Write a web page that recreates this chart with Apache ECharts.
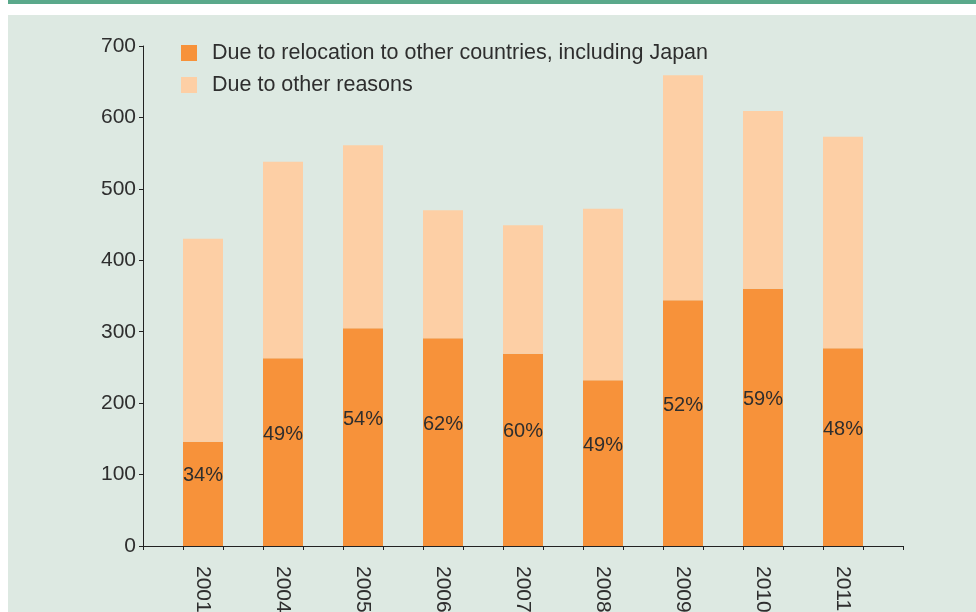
<!DOCTYPE html>
<html>
<head>
<meta charset="utf-8">
<script src="https://cdn.jsdelivr.net/npm/echarts@6/dist/echarts.min.js"></script>
<style>
  html, body { margin: 0; padding: 0; background: #fff; }
  #b { width: 976px; height: 612px; }
</style>
</head>
<body>
<div id="b"></div>
<script>
var years = ['2001', '2004', '2005', '2006', '2007', '2008', '2009', '2010', '2011'];
var relocation = [146, 263, 305, 291, 269, 232, 344, 360, 277];
var other = [284, 275, 256, 179, 180, 240, 315, 249, 296];
var shares = ['34%', '49%', '54%', '62%', '60%', '49%', '52%', '59%', '48%'];
var yTicks = [0, 700, 100]; // min, max, step

var font = 'Liberation Sans, Arial, sans-serif';
var ink = '#2e2e2e';

var myChart = echarts.init(document.getElementById('b'));
option = {
  backgroundColor: '#ffffff',
  animation: false,
  graphic: [
    { type: 'rect', z: -10, shape: { x: 8, y: 0, width: 968, height: 4 }, style: { fill: '#5aa98b' } },
    { type: 'rect', z: -10, shape: { x: 8, y: 15, width: 968, height: 597 }, style: { fill: '#dde9e2' } }
  ],
  legend: {
    orient: 'vertical',
    left: 176,
    top: 37,
    itemWidth: 16,
    itemHeight: 16,
    itemGap: 10,
    icon: 'rect',
    textStyle: { fontSize: 21.5, color: ink, fontFamily: font, padding: [0, 0, 0, 10] },
    data: ['Due to relocation to other countries, including Japan', 'Due to other reasons']
  },
  // grid 0 holds the bars, grid 1 draws the axes and ticks
  grid: [
    { left: 163, width: 720, top: 46, height: 500, outerBoundsMode: 'none', containLabel: false },
    { left: 143, width: 760, top: 46, height: 500, outerBoundsMode: 'none', containLabel: false }
  ],
  xAxis: [
    {
      type: 'category',
      gridIndex: 0,
      data: years,
      axisLine: { show: false },
      axisTick: { show: false },
      axisLabel: { rotate: -90, margin: 20, fontSize: 21, color: ink, fontFamily: font }
    },
    {
      type: 'value',
      gridIndex: 1,
      min: 0,
      max: 19,
      interval: 1,
      axisLine: { show: true, lineStyle: { color: '#222', width: 1 } },
      axisTick: { show: true, length: 4, lineStyle: { color: '#222' } },
      axisLabel: { show: false },
      splitLine: { show: false }
    }
  ],
  yAxis: [
    { type: 'value', gridIndex: 0, min: yTicks[0], max: yTicks[1], show: false },
    {
      type: 'value',
      gridIndex: 1,
      min: yTicks[0],
      max: yTicks[1],
      interval: yTicks[2],
      axisLine: { show: true, lineStyle: { color: '#222', width: 1 } },
      axisTick: { show: true, length: 4, lineStyle: { color: '#222' } },
      axisLabel: { fontSize: 21, color: ink, fontFamily: font, margin: 7 },
      splitLine: { show: false }
    }
  ],
  series: [
    {
      name: 'Due to relocation to other countries, including Japan',
      type: 'bar',
      stack: 'all',
      xAxisIndex: 0,
      yAxisIndex: 0,
      barWidth: 40,
      itemStyle: { color: '#f7923a' },
      label: {
        show: true,
        position: 'inside',
        offset: [0, -18],
        fontSize: 20,
        color: ink,
        fontFamily: font,
        formatter: function (p) { return shares[p.dataIndex]; }
      },
      data: relocation
    },
    {
      name: 'Due to other reasons',
      type: 'bar',
      stack: 'all',
      xAxisIndex: 0,
      yAxisIndex: 0,
      barWidth: 40,
      itemStyle: { color: '#fdcfa5' },
      data: other
    }
  ]
};
option && myChart.setOption(option);
</script>
</body>
</html>
